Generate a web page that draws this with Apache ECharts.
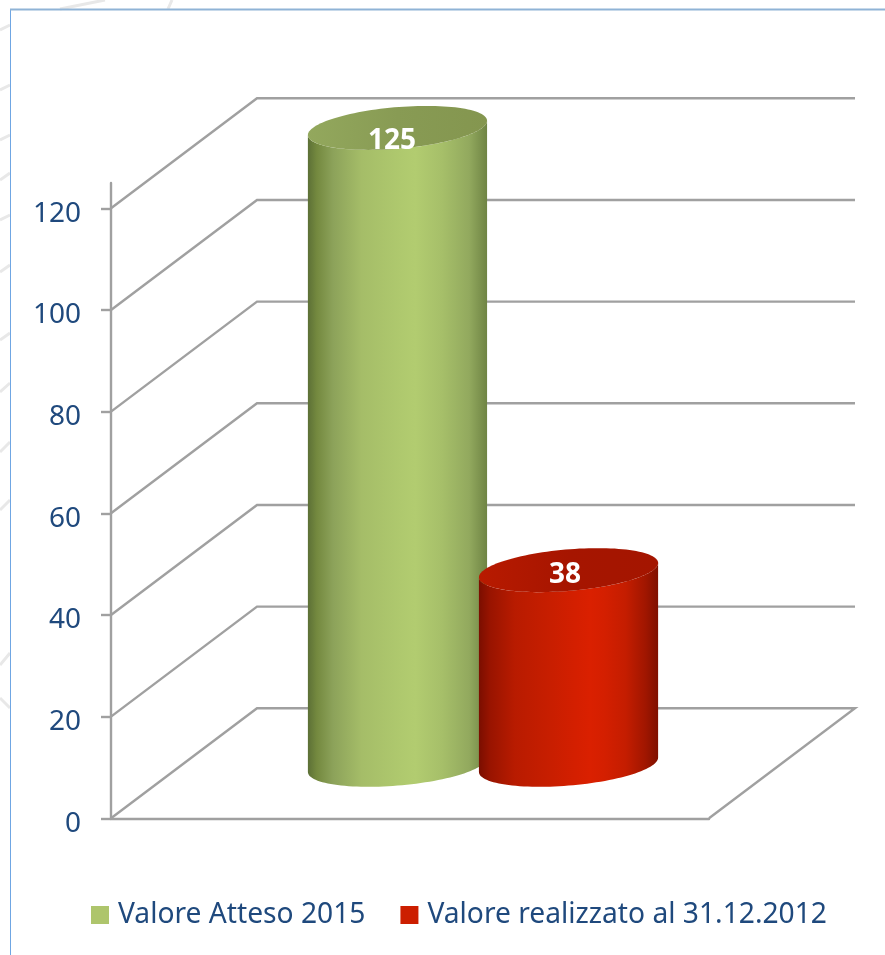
<!DOCTYPE html>
<html>
<head>
<meta charset="utf-8">
<title>Valore Atteso</title>
<script src="https://cdn.jsdelivr.net/npm/echarts@6/dist/echarts.min.js"></script>
<style>
  html, body { margin: 0; padding: 0; background: #fff; }
  #chart { width: 885px; height: 955px; }
</style>
</head>
<body>
<div id="chart"></div>
<script>
// dati
const categories = ['Valori'];
const tickValues = [0, 20, 40, 60, 80, 100, 120];
const valoreAtteso = [125];
const valoreRealizzato = [38];
const seriesNames = ['Valore Atteso 2015', 'Valore realizzato al 31.12.2012'];

const FONT = '"Noto Sans", sans-serif';
const TEXT_COLOR = '#1f497d';
const LINE_COLOR = '#a0a0a0';

// finta prospettiva: spostamento della parete di fondo
const DEPTH_X = 146;
const DEPTH_Y = 110;
// cilindro: semiasse orizzontale e frazione della profondita'
const CYL_AX = 84.7;
const CYL_DEPTH = 0.2;

const chart = echarts.init(document.getElementById('chart'));

function linear(stops) {
  return new echarts.graphic.LinearGradient(0, 0, 1, 0,
    stops.map(s => ({ offset: s[0], color: s[1] })));
}

// griglia a parete + pavimento, una polilinea per ogni tick
function renderGrid(params, api) {
  const v = api.value(0);
  const c = api.coord([0, v]);
  const halfBand = api.size([1, 0])[0] / 2;
  const x0 = c[0] - halfBand;
  const points = [[x0, c[1]], [x0 + DEPTH_X, c[1] - DEPTH_Y], [c[0] + halfBand + DEPTH_X, c[1] - DEPTH_Y]];
  if (v === 0) points.push([c[0] + halfBand, c[1]]);
  return {
    type: 'polyline',
    shape: { points: points },
    style: { fill: null, stroke: LINE_COLOR, lineWidth: 2.4 },
    silent: true
  };
}

function ellipsePoint(cx, cy, t) {
  return [
    cx + CYL_AX * Math.cos(t) + DEPTH_X * CYL_DEPTH * Math.sin(t),
    cy - DEPTH_Y * CYL_DEPTH * Math.sin(t)
  ];
}

function makeCylinder(slot, sideStops, topStops, labelDx, labelDy) {
  return function (params, api) {
    const value = api.value(1);
    const base = api.coord([0, 0]);
    const top = api.coord([0, value]);
    const spacing = api.size([1, 0])[0] * 0.286;
    const cx = base[0] + slot * spacing / 2 + DEPTH_X / 2;
    const baseY = base[1] - DEPTH_Y / 2 + 1.5;
    const topY = top[1] - DEPTH_Y / 2;

    const t0 = Math.atan2(DEPTH_X * CYL_DEPTH, CYL_AX);
    const side = [];
    const ring = [];
    for (let i = 0; i <= 60; i++) {
      side.push(ellipsePoint(cx, baseY, t0 - Math.PI * i / 60));
    }
    for (let i = 60; i >= 0; i--) {
      side.push(ellipsePoint(cx, topY, t0 - Math.PI * i / 60));
    }
    for (let i = 0; i < 120; i++) {
      ring.push(ellipsePoint(cx, topY, Math.PI * 2 * i / 120));
    }
    return {
      type: 'group',
      children: [
        { type: 'polygon', shape: { points: side }, style: { fill: linear(sideStops) } },
        { type: 'polygon', shape: { points: ring }, style: { fill: linear(topStops) } },
        {
          type: 'text',
          x: cx + labelDx,
          y: topY + labelDy,
          style: {
            text: String(value),
            fill: '#fff',
            font: 'bold 28px ' + FONT,
            align: 'center',
            verticalAlign: 'middle'
          }
        }
      ]
    };
  };
}

const greenSide = [[0, '#5c7036'], [0.05, '#74893f'], [0.14, '#8ca25a'], [0.3, '#a5bd68'], [0.52, '#afc96e'], [0.6, '#b2cc70'], [0.75, '#a6bf69'], [0.9, '#92a95e'], [1, '#6f8444']];
const greenTop = [[0, '#93a85d'], [0.5, '#889b54'], [1, '#84964f']];
const redSide = [[0, '#7a0e00'], [0.06, '#981400'], [0.2, '#b81b00'], [0.4, '#c81e00'], [0.54, '#d41f00'], [0.62, '#da2000'], [0.7, '#d41f00'], [0.82, '#c41d00'], [0.93, '#a01600'], [1, '#7f1000']];
const redTop = [[0, '#b81a00'], [0.5, '#a61500'], [1, '#a41500']];

const option = {
  animation: false,
  backgroundColor: '#fff',
  grid: { left: 111, right: 176, top: 182.9, bottom: 136.7, containLabel: false },
  legend: {
    left: 91,
    top: 901,
    padding: 0,
    itemWidth: 18,
    itemHeight: 18,
    itemGap: 35,
    icon: 'rect',
    selectedMode: false,
    data: seriesNames,
    textStyle: { color: TEXT_COLOR, fontFamily: FONT, fontSize: 28.2, padding: [0, 0, 0, 4] }
  },
  xAxis: {
    type: 'category',
    data: categories,
    axisLine: { show: true, lineStyle: { color: LINE_COLOR, width: 2.4 } },
    axisTick: { show: false },
    axisLabel: { show: false },
    splitLine: { show: false }
  },
  yAxis: {
    type: 'value',
    min: 0,
    max: 125,
    interval: 20,
    axisLine: { show: true, lineStyle: { color: LINE_COLOR, width: 2.4 } },
    axisTick: { show: true, length: 10, customValues: tickValues, lineStyle: { color: LINE_COLOR, width: 2.4 } },
    axisLabel: { customValues: tickValues, color: TEXT_COLOR, fontFamily: FONT, fontSize: 28, margin: 30, verticalAlign: 'top', lineHeight: 11 },
    splitLine: { show: false }
  },
  graphic: [
    { type: 'line', silent: true, z: -1, shape: { x1: 10.5, y1: 9, x2: 10.5, y2: 955 }, style: { stroke: '#6fa6e3', lineWidth: 1 } },
    { type: 'line', silent: true, z: -1, shape: { x1: 10, y1: 9.5, x2: 885, y2: 9.5 }, style: { stroke: '#8fb3d6', lineWidth: 2 } },
    // segni chiari dello sfondo fuori dalla cornice
    ...[[340, 333], [392, 383], [452, 442], [510, 500], [665, 653], [698, 708], [30, 25], [90, 85], [140, 135], [180, 173], [220, 215], [272, 265]].map(p => ({
      type: 'line', silent: true, z: -2, shape: { x1: 0, y1: p[0], x2: 10, y2: p[1] }, style: { stroke: '#e8e8e8', lineWidth: 3 }
    })),
    { type: 'line', silent: true, z: -2, shape: { x1: 60, y1: 9, x2: 105, y2: 0 }, style: { stroke: '#e8e8e8', lineWidth: 3 } },
    { type: 'line', silent: true, z: -2, shape: { x1: 168, y1: 9, x2: 172, y2: 0 }, style: { stroke: '#e8e8e8', lineWidth: 3 } }
  ],
  series: [
    {
      type: 'custom',
      name: 'griglia',
      data: tickValues.map(v => [v]),
      encode: { y: 0 },
      renderItem: renderGrid,
      clip: false,
      silent: true,
      z: 1
    },
    {
      type: 'custom',
      name: seriesNames[0],
      itemStyle: { color: '#aec56c' },
      data: valoreAtteso.map((v, i) => [i, v]),
      encode: { x: 0, y: 1 },
      renderItem: makeCylinder(-1, greenSide, greenTop, -5.5, 13),
      clip: false,
      z: 2
    },
    {
      type: 'custom',
      name: seriesNames[1],
      itemStyle: { color: '#cc1e00' },
      data: valoreRealizzato.map((v, i) => [i, v]),
      encode: { x: 0, y: 1 },
      renderItem: makeCylinder(1, redSide, redTop, -3.5, 5),
      clip: false,
      z: 3
    }
  ]
};

chart.setOption(option);
</script>
</body>
</html>
